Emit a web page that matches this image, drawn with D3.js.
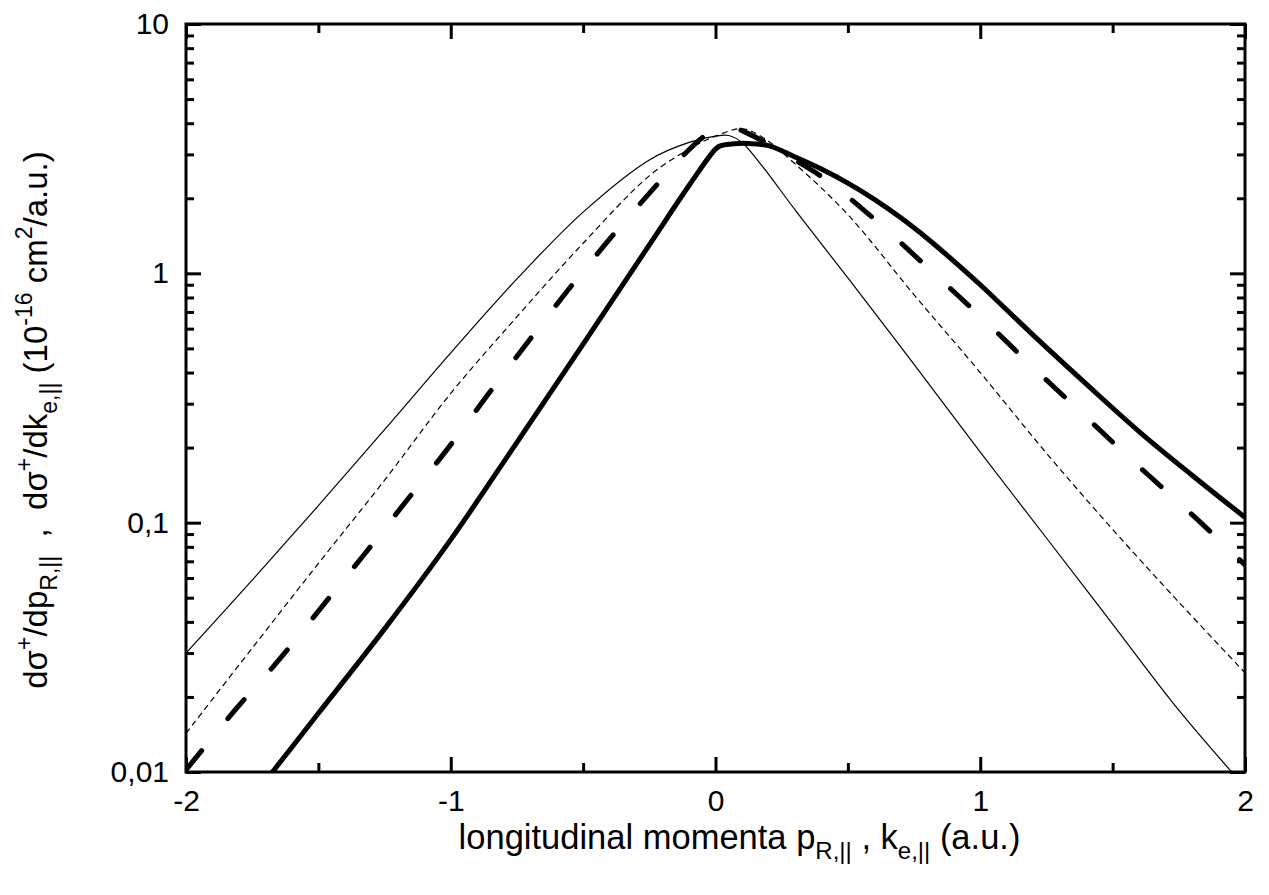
<!DOCTYPE html>
<html>
<head>
<meta charset="utf-8">
<script src="https://cdn.jsdelivr.net/npm/d3@7"></script>
<style>
  body { margin: 0; background: #fff; }
  .chart text { font-family: "Liberation Sans", Arial, sans-serif; fill: #000; white-space: pre; }
  .tick line { stroke: #000; stroke-width: 3; }
</style>
</head>
<body>
<div class="plot"></div>
<script>
// axis ticks
var xTicks = [-2, -1, 0, 1, 2],
    xMinorTicks = [-1.5, -0.5, 0.5, 1.5],
    yTicks = [0.01, 0.1, 1, 10],
    yTickLabels = ["0,01", "0,1", "1", "10"];

// thin solid curve
var thinSolidX = [-2, -1.75, -1.5, -1.25, -1, -0.75, -0.5, -0.25, -0.1, 0, 0.05, 0.1, 0.15, 0.2, 0.3, 0.5, 0.75, 1, 1.25, 1.5, 1.75, 2],
    thinSolidY = [0.030, 0.0588, 0.117, 0.236, 0.48, 0.95, 1.76, 2.85, 3.35, 3.55, 3.57, 3.35, 2.92, 2.5, 1.80, 0.958, 0.431, 0.192, 0.0868, 0.0392, 0.0177, 0.0087];

// thin dashed curve
var thinDashX = [-2, -1.75, -1.5, -1.25, -1, -0.75, -0.5, -0.25, -0.1, 0, 0.1, 0.18, 0.3, 0.5, 0.75, 1, 1.25, 1.5, 1.75, 2],
    thinDashY = [0.0143, 0.0314, 0.0686, 0.148, 0.33, 0.67, 1.32, 2.46, 3.15, 3.55, 3.8, 3.5, 2.75, 1.72, 0.82, 0.40, 0.19, 0.094, 0.048, 0.025];

// thick dashed curve
var thickDashX = [-2, -1.811, -1.641, -1.481, -1.324, -1.165, -1.0085, -0.861, -0.71, -0.557, -0.398, -0.196, -0.127, -0.05, 0, 0.036, 0.08, 0.12, 0.2, 0.3, 0.423, 0.621, 0.816, 1.005, 1.194, 1.392, 1.581, 1.773, 1.958, 2],
    thickDashY = [0.0102, 0.0179, 0.0288, 0.0468, 0.0752, 0.1233, 0.200, 0.325, 0.528, 0.857, 1.38, 2.43, 2.93, 3.5, 3.75, 3.83, 3.8, 3.65, 3.3, 2.85, 2.35, 1.577, 1.02, 0.665, 0.425, 0.270, 0.175, 0.1145, 0.0749, 0.0676];

// thick solid curve
var thickSolidX = [-1.7, -1.5, -1.25, -1, -0.75, -0.5, -0.25, -0.1, 0, 0.02, 0.06, 0.12, 0.2, 0.3, 0.4, 0.5, 0.6, 0.7, 0.8, 0.9, 1, 1.2, 1.4, 1.6, 1.8, 2],
    thickSolidY = [0.0092, 0.0172, 0.0375, 0.0855, 0.21, 0.52, 1.30, 2.25, 3.15, 3.25, 3.3, 3.32, 3.25, 2.93, 2.62, 2.30, 1.98, 1.67, 1.38, 1.12, 0.90, 0.565, 0.36, 0.232, 0.155, 0.105];

var margin = {top: 24, right: 24, bottom: 123, left: 186},
    svg_width = 1269,
    svg_height = 895,
    width = svg_width - margin.left - margin.right,
    height = svg_height - margin.top - margin.bottom;

var xScale = d3.scaleLinear().domain([-2, 2]).range([0, width]),
    yScale = d3.scaleLog().domain([0.01, 10]).range([height, 0]);

// minor y ticks: 2..9 in each decade
var yMinorTicks = [];
[0.01, 0.1, 1].forEach(function(dec) {
    for (var k = 2; k <= 9; k++) yMinorTicks.push(dec * k);
});

var svg0 = d3.select(".plot").append("svg")
    .attr("class", "chart")
    .attr("width", svg_width)
    .attr("height", svg_height);

svg0.append("rect").attr("width", svg_width).attr("height", svg_height).attr("fill", "#fff");

var svg = svg0.append("g")
    .attr("transform", "translate(" + margin.left + "," + margin.top + ")");

svg.append("defs").append("clipPath").attr("id", "clip")
  .append("rect").attr("width", width).attr("height", height);

// axes, ticks pointing inward on all four sides
function addAxis(axis, transform) {
    var g = svg.append("g").attr("transform", transform || null).call(axis);
    g.select(".domain").remove();
    return g;
}

var xb = addAxis(d3.axisBottom(xScale).tickValues(xTicks).tickSize(-15).tickPadding(18)
    .tickFormat(function(d) { return d < 0 ? "-" + Math.abs(d) : d; }), "translate(0," + height + ")");
xb.selectAll("text").style("font-size", "30px");
addAxis(d3.axisBottom(xScale).tickValues(xMinorTicks).tickSize(-9).tickFormat(""), "translate(0," + height + ")");
addAxis(d3.axisTop(xScale).tickValues(xTicks).tickSize(-15).tickFormat(""));
addAxis(d3.axisTop(xScale).tickValues(xMinorTicks).tickSize(-9).tickFormat(""));

var yl = addAxis(d3.axisLeft(yScale).tickValues(yTicks).tickSize(-15).tickPadding(17)
    .tickFormat(function(d, i) { return yTickLabels[i]; }));
yl.selectAll("text").style("font-size", "30px");
addAxis(d3.axisLeft(yScale).tickValues(yMinorTicks).tickSize(-8).tickFormat(""));
addAxis(d3.axisRight(yScale).tickValues(yTicks).tickSize(-15).tickFormat(""), "translate(" + width + ",0)");
addAxis(d3.axisRight(yScale).tickValues(yMinorTicks).tickSize(-8).tickFormat(""), "translate(" + width + ",0)");

svg.append("rect")
    .attr("width", width).attr("height", height)
    .attr("fill", "none").attr("stroke", "#000").attr("stroke-width", 3);

// curves
var line = d3.line()
    .x(function(d) { return xScale(d[0]); })
    .y(function(d) { return yScale(d[1]); })
    .curve(d3.curveCatmullRom.alpha(0.5));

function zip(xs, ys) { return xs.map(function(x, i) { return [x, ys[i]]; }); }

var curves = [
    {data: zip(thinSolidX, thinSolidY), w: 1.2, dash: null},
    {data: zip(thinDashX, thinDashY), w: 1.2, dash: "6,4"},
    {data: zip(thickDashX, thickDashY), w: 5, dash: "25,41"},
    {data: zip(thickSolidX, thickSolidY), w: 5, dash: null}
];

svg.append("g").attr("clip-path", "url(#clip)")
  .selectAll("path")
  .data(curves)
  .enter().append("path")
    .attr("d", function(d) { return line(d.data); })
    .attr("fill", "none")
    .attr("stroke", "#000")
    .attr("stroke-width", function(d) { return d.w; })
    .attr("stroke-dasharray", function(d) { return d.dash; })
    .attr("stroke-linecap", function(d) { return d.dash && d.w > 2 ? "round" : "butt"; })
    .attr("stroke-linejoin", "round");

// x axis title
var xt = svg0.append("text")
    .attr("x", margin.left + width / 2 + 24)
    .attr("y", 849)
    .attr("text-anchor", "middle")
    .style("font-size", "34.5px");
xt.append("tspan").text("longitudinal momenta p");
xt.append("tspan").attr("dy", 10).style("font-size", "24px").text("R,||");
xt.append("tspan").attr("dy", -10).text(" , k");
xt.append("tspan").attr("dy", 10).style("font-size", "24px").text("e,||");
xt.append("tspan").attr("dy", -10).text(" (a.u.)");

// y axis title
var yt = svg0.append("text")
    .attr("transform", "translate(47," + (margin.top + height / 2 + 22) + ")rotate(-90)")
    .attr("text-anchor", "middle")
    .style("font-size", "33px");
function piece(txt, shift, small) {
    var t = yt.append("tspan").text(txt);
    if (shift) t.attr("dy", shift);
    if (small) t.style("font-size", "23px");
}
piece("dσ");
piece("+", -15, true);
piece("/dp", 15);
piece("R,||", 10, true);
piece("  ,  dσ", -10);
piece("+", -15, true);
piece("/dk", 15);
piece("e,||", 10, true);
piece(" (10", -10);
piece("-16", -15, true);
piece(" cm", 15);
piece("2", -15, true);
piece("/a.u.)", 15);
</script>
</body>
</html>
